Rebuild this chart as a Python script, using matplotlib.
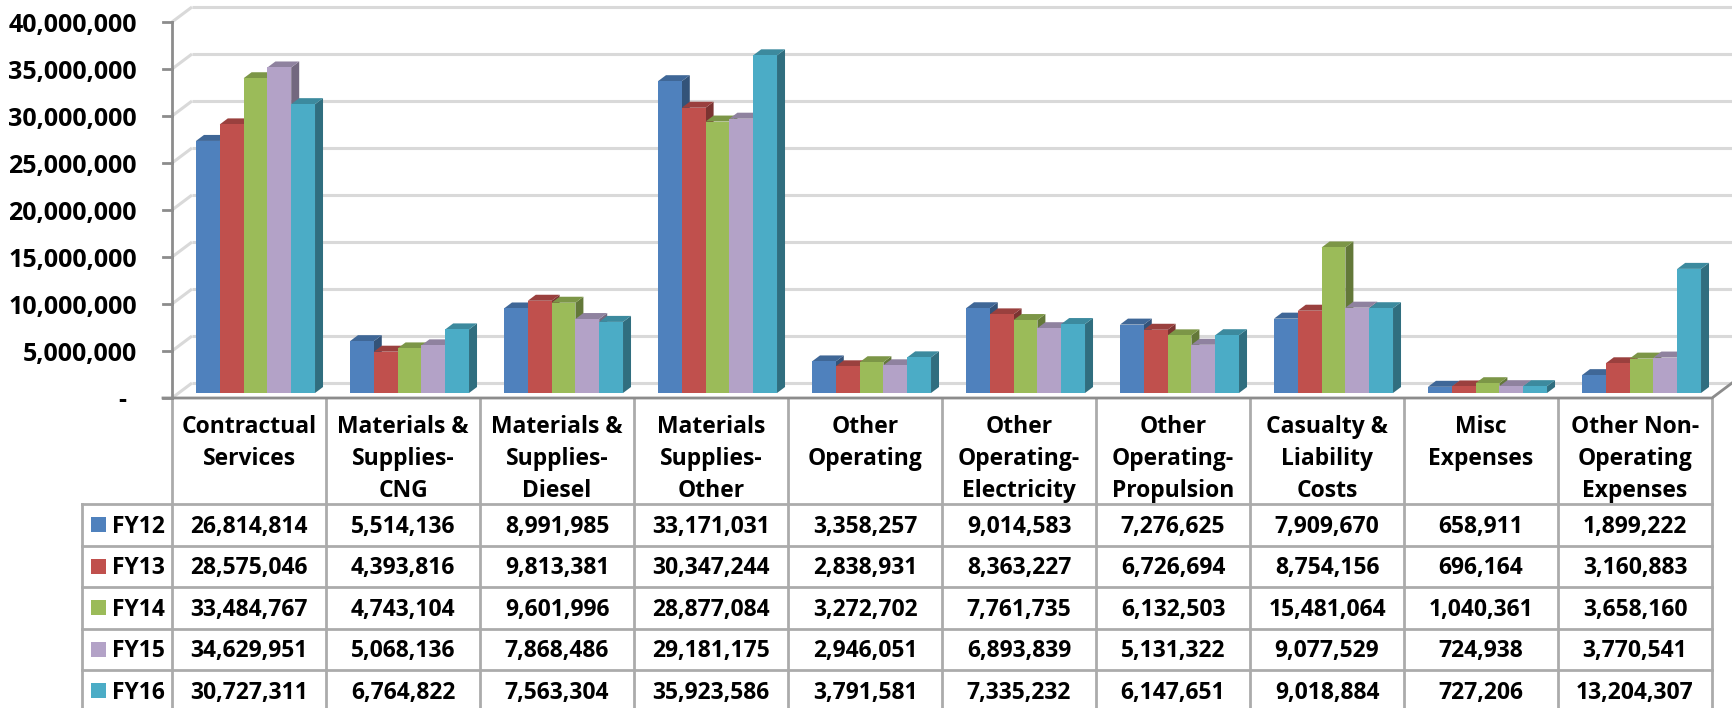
import matplotlib
matplotlib.use("Agg")
import matplotlib.pyplot as plt
from matplotlib.patches import Polygon, Rectangle

# ---- data -------------------------------------------------------------
categories = [
    "Contractual\nServices",
    "Materials &\nSupplies-\nCNG",
    "Materials &\nSupplies-\nDiesel",
    "Materials\nSupplies-\nOther",
    "Other\nOperating",
    "Other\nOperating-\nElectricity",
    "Other\nOperating-\nPropulsion",
    "Casualty &\nLiability\nCosts",
    "Misc\nExpenses",
    "Other Non-\nOperating\nExpenses",
]
years = ["FY12", "FY13", "FY14", "FY15", "FY16"]
fy12 = [26814814, 5514136, 8991985, 33171031, 3358257, 9014583, 7276625, 7909670, 658911, 1899222]
fy13 = [28575046, 4393816, 9813381, 30347244, 2838931, 8363227, 6726694, 8754156, 696164, 3160883]
fy14 = [33484767, 4743104, 9601996, 28877084, 3272702, 7761735, 6132503, 15481064, 1040361, 3658160]
fy15 = [34629951, 5068136, 7868486, 29181175, 2946051, 6893839, 5131322, 9077529, 724938, 3770541]
fy16 = [30727311, 6764822, 7563304, 35923586, 3791581, 7335232, 6147651, 9018884, 727206, 13204307]
series = [fy12, fy13, fy14, fy15, fy16]
y_ticks = [0, 5000000, 10000000, 15000000, 20000000, 25000000, 30000000, 35000000, 40000000]

colors = ["#4F81BD", "#C0504D", "#9BBB59", "#B3A2C7", "#4BACC6"]

# ---- styling helpers --------------------------------------------------
FONT = "Open Sans"
FS = 16.5
FS_TICK = 18
GRID = "#D9D9D9"
AXIS = "#8C8C8C"
TABLE = "#ABABAB"
TXT = dict(fontsize=FS, fontweight="bold", family=FONT, color="black")
TICK_TXT = dict(TXT, fontsize=FS_TICK)


def shade(hex_color, f):
    r, g, b = matplotlib.colors.to_rgb(hex_color)
    return (r * f, g * f, b * f)


W, H = 1732, 708
fig = plt.figure(figsize=(W / 100, H / 100), dpi=100)
fig.patch.set_facecolor("white")

# plot area (front plane of the 3-D box)
left_px, right_px, zero_px, top_px = 172, 1712, 398, 22
ax = fig.add_axes([left_px / W, (H - zero_px) / H,
                   (right_px - left_px) / W, (zero_px - top_px) / H])
n = len(categories)
ax.set_xlim(-0.5, n - 0.5)
ax.set_ylim(0, y_ticks[-1])
ax.axis("off")

ux = n / (right_px - left_px)            # data units per pixel (x)
uy = y_ticks[-1] / (zero_px - top_px)    # data units per pixel (y)

x0, x1 = -0.5, n - 0.5
wdx, wdy = 20 * ux, 15 * uy              # depth of the walls

# back wall gridlines + side wall diagonals
for t in y_ticks:
    ax.plot([x0, x0 + wdx], [t, t + wdy], color=GRID, lw=2.2,
            solid_capstyle="butt", clip_on=False, zorder=1)
    ax.plot([x0 + wdx, x1 + wdx], [t + wdy, t + wdy], color=GRID, lw=2.2,
            solid_capstyle="butt", clip_on=False, zorder=1)

# bars with 3-D faces
group_w = 0.773
bw = group_w / len(series)
bdx, bdy = 6.5 * ux, 5 * uy              # bar plane offset into the box
sdx, sdy = 8 * ux, 6 * uy                # bar depth
for i in range(n):
    for j, vals in enumerate(series):
        v = vals[i]
        xl = i - group_w / 2 + j * bw + bdx
        xr = xl + bw
        yb = bdy
        yt = bdy + v
        c = colors[j]
        ax.add_patch(Polygon([(xr, yb), (xr + sdx, yb + sdy), (xr + sdx, yt + sdy), (xr, yt)],
                             closed=True, facecolor=shade(c, 0.64), lw=0,
                             clip_on=False, zorder=3))
        ax.add_patch(Polygon([(xl, yt), (xr, yt), (xr + sdx, yt + sdy), (xl + sdx, yt + sdy)],
                             closed=True, facecolor=shade(c, 0.80), lw=0,
                             clip_on=False, zorder=3))
        ax.add_patch(Rectangle((xl, yb), bw, v, facecolor=c, lw=0,
                               clip_on=False, zorder=3))

# value axis line, ticks and floor edges
tick_len = 9 * ux
ax.plot([x0, x0], [0, y_ticks[-1]], color=AXIS, lw=2, clip_on=False, zorder=4)
for t in y_ticks:
    ax.plot([x0 - tick_len, x0], [t, t], color=AXIS, lw=2, clip_on=False, zorder=4)
ax.plot([x0 - tick_len, x1, x1 + wdx], [0, 0, wdy], color=AXIS, lw=2,
        clip_on=False, zorder=4)

# value axis labels (baseline sits ~10 px below each tick)
for t in y_ticks:
    if t == 0:
        ax.text(x0 - 46 * ux, -9 * uy, "-", ha="right", va="baseline", **TICK_TXT)
    else:
        ax.text(x0 - 35 * ux, t - 10 * uy, f"{t:,}", ha="right",
                va="baseline", **TICK_TXT)

# ---- data table -------------------------------------------------------
header_h = 106
row_h = 41.5
label_left = x0 - 90 * ux
row_lines = [header_h + k * row_h for k in range(len(series) + 1)]
bottom = -(row_lines[-1]) * uy

for k in range(n + 1):
    ax.plot([x0 + k, x0 + k], [0, bottom], color=TABLE, lw=2,
            clip_on=False, zorder=2)
ax.plot([label_left, label_left], [-row_lines[0] * uy, bottom], color=TABLE,
        lw=2, clip_on=False, zorder=2)
for r in row_lines:
    ax.plot([label_left, x1], [-r * uy, -r * uy], color=TABLE, lw=2,
            clip_on=False, zorder=2)

# column headers, one text per line on a 32 px pitch
for i, cat in enumerate(categories):
    for k, line in enumerate(cat.split("\n")):
        ax.text(i, -(35 + 32 * k) * uy, line, ha="center", va="baseline", **TXT)

# rows: legend key, series name and values
for j, (name, vals) in enumerate(zip(years, series)):
    yc = -(header_h + (j + 0.5) * row_h) * uy
    yb = yc - 8 * uy
    ax.add_patch(Rectangle((x0 - 81 * ux, yc - 7.5 * uy), 15 * ux, 15 * uy,
                           facecolor=colors[j], lw=0, clip_on=False, zorder=3))
    ax.text(x0 - 60 * ux, yb, name, ha="left", va="baseline", **TXT)
    for i, v in enumerate(vals):
        ax.text(i, yb, f"{v:,}", ha="center", va="baseline", **TXT)

fig.savefig("out.png", dpi=100, facecolor="white")
